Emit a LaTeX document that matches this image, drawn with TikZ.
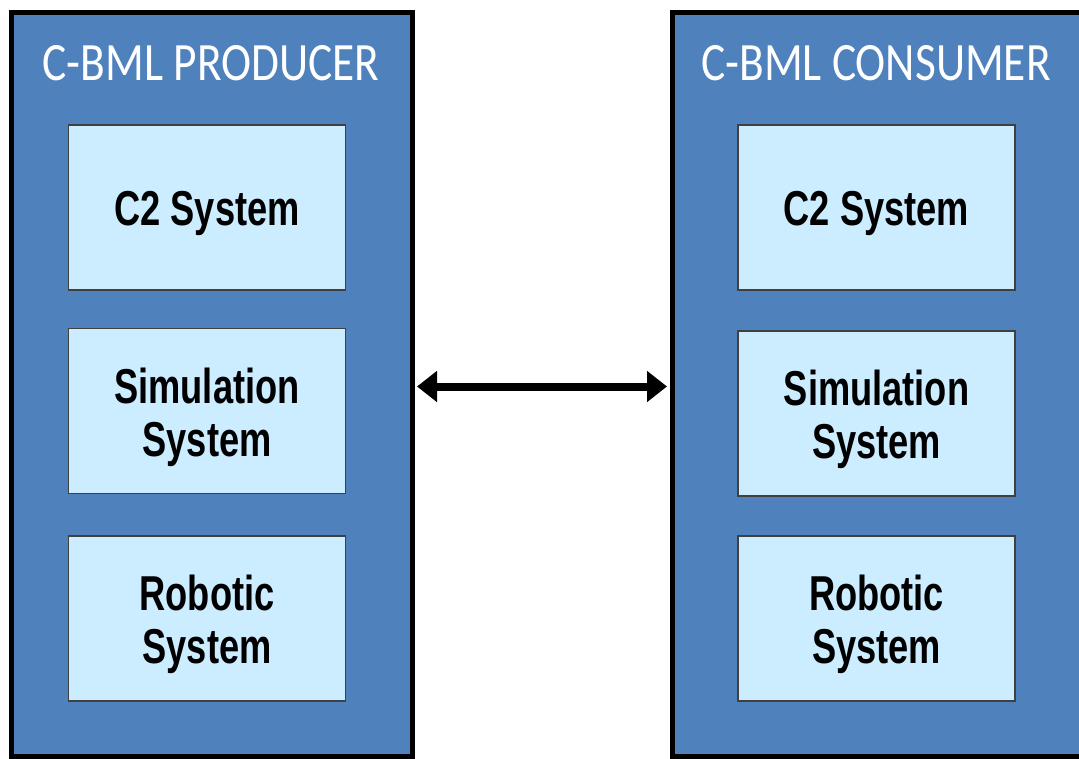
\documentclass[tikz,border=0pt]{standalone}
\usepackage{fontspec}
\usetikzlibrary{arrows.meta}
\newfontfamily\titlefont[FakeStretch=0.84]{Carlito}
\newfontfamily\boxfont[FakeStretch=0.74]{Liberation Sans Bold}
\definecolor{outerblue}{HTML}{4F81BD}
\definecolor{innerblue}{HTML}{CCECFF}

\begin{document}
\begin{tikzpicture}[x=1pt,y=-1pt,
  outerbox/.style={draw=black, line width=5pt, fill=outerblue, inner sep=0pt},
  innerbox/.style={draw=black!75, line width=1.6pt, fill=innerblue,
    minimum width=277pt, minimum height=165pt, inner sep=0pt,
    label={[boxlabel]center:#1}},
  boxlabel/.style={align=center, yshift=-6pt,
    font=\boxfont\fontsize{49}{53}\selectfont},
  titletext/.style={text=white, font=\titlefont\fontsize{54}{60}\selectfont}]
\useasboundingbox (0,0) rectangle (1079,759);

% Outer boxes
\node[outerbox, minimum width=401pt, minimum height=743pt] (prod) at (211.5,384.5) {};
\node[outerbox, minimum width=413pt, minimum height=743pt] (cons) at (878.5,384.5) {};

% Titles
\node[titletext] (prodtitle) at (211,63) {C-BML PRODUCER};
\node[titletext] (constitle) at (876,63) {C-BML CONSUMER};

% Producer side
\node[innerbox={C2 System}] (prodc2) at (207,207.5) {};
\node[innerbox={Simulation\\System}] (prodsim) at (207,411) {};
\node[innerbox={Robotic\\System}] (prodrob) at (207,618.5) {};

% Consumer side
\node[innerbox={C2 System}] (consc2) at (876.5,207.5) {};
\node[innerbox={Simulation\\System}] (conssim) at (876.5,413.5) {};
\node[innerbox={Robotic\\System}] (consrob) at (876.5,618.5) {};

% Exchange
\draw[line width=8pt, {Triangle[length=20pt,width=30pt]}-{Triangle[length=20pt,width=30pt]}, shorten <=2.5pt, shorten >=2.5pt]
  ([yshift=-2pt]prod.east) -- ([yshift=-2pt]cons.west);

\end{tikzpicture}
\end{document}
